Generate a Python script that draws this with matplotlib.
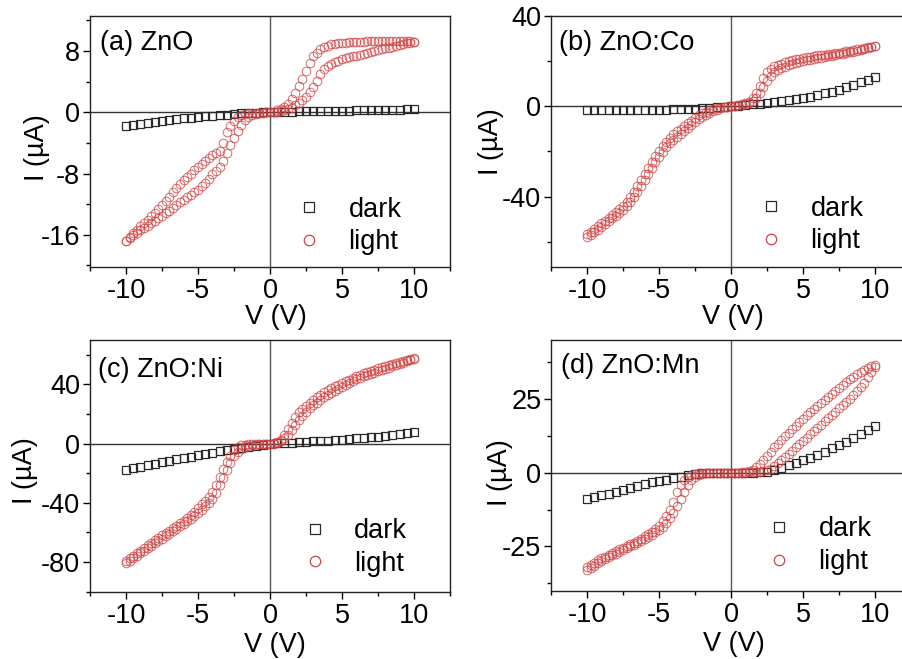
import matplotlib.pyplot as plt
from matplotlib.lines import Line2D
from matplotlib.ticker import MultipleLocator

plt.rcParams["font.family"] = ["Liberation Sans", "DejaVu Sans"]

# voltage sweep of the light curves (V), 0.25 V step
V_LIGHT = [
    -10.0, -9.75, -9.5, -9.25, -9.0, -8.75, -8.5, -8.25,
    -8.0, -7.75, -7.5, -7.25, -7.0, -6.75, -6.5, -6.25,
    -6.0, -5.75, -5.5, -5.25, -5.0, -4.75, -4.5, -4.25,
    -4.0, -3.75, -3.5, -3.25, -3.0, -2.75, -2.5, -2.25,
    -2.0, -1.75, -1.5, -1.25, -1.0, -0.75, -0.5, -0.25,
    0.0, 0.25, 0.5, 0.75, 1.0, 1.25, 1.5, 1.75,
    2.0, 2.25, 2.5, 2.75, 3.0, 3.25, 3.5, 3.75,
    4.0, 4.25, 4.5, 4.75, 5.0, 5.25, 5.5, 5.75,
    6.0, 6.25, 6.5, 6.75, 7.0, 7.25, 7.5, 7.75,
    8.0, 8.25, 8.5, 8.75, 9.0, 9.25, 9.5, 9.75,
    10.0,
]

# voltage sweep of the dark curves (V), 0.5 V step
V_DARK = [
    -10.0, -9.5, -9.0, -8.5, -8.0, -7.5, -7.0, -6.5, -6.0, -5.5,
    -5.0, -4.5, -4.0, -3.5, -3.0, -2.5, -2.0, -1.5, -1.0, -0.5,
    0.0, 0.5, 1.0, 1.5, 2.0, 2.5, 3.0, 3.5, 4.0, 4.5,
    5.0, 5.5, 6.0, 6.5, 7.0, 7.5, 8.0, 8.5, 9.0, 9.5, 10.0,
]

# (a) ZnO, current in uA
ZNO_DARK = [
    -1.75, -1.6, -1.48, -1.36, -1.25, -1.12, -1.0, -0.9, -0.8, -0.7,
    -0.62, -0.54, -0.46, -0.38, -0.3, -0.22, -0.15, -0.1, -0.05, -0.02,
    0.0, 0.05, 0.08, 0.1, 0.12, 0.14, 0.15, 0.17, 0.18, 0.2,
    0.21, 0.22, 0.24, 0.25, 0.27, 0.28, 0.3, 0.32, 0.34, 0.37, 0.4,
]
ZNO_LIGHT_HI = [
    -16.8, -16.3, -15.8, -15.35, -14.9, -14.45, -14.0, -13.55,
    -13.1, -12.6, -12.1, -11.55, -11.0, -10.45, -9.9, -9.4,
    -8.9, -8.45, -8.0, -7.55, -7.1, -6.7, -6.3, -5.95,
    -5.6, -5.3, -5.0, -4.0, -2.6, -1.8, -1.1, -0.6,
    -0.35, -0.25, -0.15, -0.12, -0.1, -0.07, -0.05, -0.02,
    0.0, 0.1, 0.25, 0.45, 0.75, 1.1, 1.7, 2.5,
    3.4, 4.4, 5.4, 6.4, 7.3, 7.8, 8.2, 8.5,
    8.7, 8.85, 8.95, 9.0, 9.05, 9.1, 9.12, 9.15,
    9.18, 9.2, 9.22, 9.24, 9.26, 9.28, 9.3, 9.3,
    9.32, 9.33, 9.34, 9.35, 9.35, 9.35, 9.33, 9.3,
    9.2,
]
ZNO_LIGHT_LO = [
    -16.8, -16.4, -16.0, -15.7, -15.4, -15.1, -14.8, -14.5,
    -14.2, -13.85, -13.5, -13.2, -12.9, -12.5, -12.1, -11.75,
    -11.4, -11.1, -10.8, -10.45, -10.1, -9.65, -9.2, -8.65,
    -8.1, -7.7, -7.2, -6.3, -5.3, -4.3, -3.4, -2.4,
    -1.6, -1.0, -0.6, -0.35, -0.2, -0.12, -0.05, -0.02,
    0.0, 0.03, 0.1, 0.18, 0.3, 0.45, 0.6, 0.9,
    1.2, 1.6, 2.0, 2.6, 3.3, 4.1, 5.0, 5.6,
    6.0, 6.3, 6.5, 6.7, 6.9, 7.05, 7.2, 7.3,
    7.4, 7.5, 7.65, 7.8, 7.9, 8.0, 8.15, 8.25,
    8.35, 8.45, 8.55, 8.7, 8.8, 8.9, 9.0, 9.1,
    9.2,
]

# (b) ZnO:Co
CO_DARK = [
    -1.8, -1.8, -1.8, -1.75, -1.75, -1.7, -1.7, -1.65, -1.6, -1.6,
    -1.55, -1.5, -1.45, -1.4, -1.3, -1.2, -1.0, -0.8, -0.55, -0.3,
    0.0, 0.25, 0.5, 0.75, 1.0, 1.3, 1.7, 2.1, 2.6, 3.1,
    3.6, 4.2, 4.9, 5.6, 6.4, 7.3, 8.3, 9.4, 10.5, 11.7, 13.0,
]
CO_LIGHT_HI = [
    -56.5, -55.6, -54.3, -53.0, -51.8, -50.6, -49.5, -48.3,
    -47.0, -45.6, -44.0, -42.3, -40.3, -38.0, -35.5, -32.8,
    -30.2, -27.5, -24.8, -22.2, -19.8, -17.7, -15.8, -14.0,
    -12.5, -11.2, -10.0, -8.8, -7.6, -6.4, -5.2, -4.1,
    -3.2, -2.5, -1.9, -1.4, -1.0, -0.7, -0.4, -0.2,
    0.0, 0.2, 0.4, 0.8, 1.3, 2.0, 3.5, 6.0,
    9.0, 12.5, 15.0, 16.6, 17.6, 18.2, 18.8, 19.4,
    19.9, 20.3, 20.7, 21.0, 21.3, 21.6, 21.9, 22.1,
    22.4, 22.6, 22.8, 23.0, 23.2, 23.4, 23.7, 23.9,
    24.2, 24.5, 24.8, 25.1, 25.4, 25.7, 26.0, 26.2,
    26.4,
]
CO_LIGHT_LO = [
    -58.0, -57.0, -55.8, -54.6, -53.3, -52.0, -50.8, -49.6,
    -48.4, -47.2, -45.8, -44.2, -42.5, -40.4, -38.0, -35.4,
    -32.8, -30.1, -27.4, -24.8, -22.3, -20.1, -18.2, -16.5,
    -15.0, -13.6, -12.3, -11.0, -9.7, -8.4, -7.1, -5.9,
    -4.8, -3.8, -2.9, -2.1, -1.5, -1.0, -0.6, -0.3,
    0.0, 0.1, 0.3, 0.5, 0.9, 1.4, 2.2, 3.6,
    5.6, 8.3, 11.0, 13.3, 15.0, 16.0, 16.8, 17.5,
    18.1, 18.6, 19.1, 19.5, 19.8, 20.2, 20.5, 20.8,
    21.1, 21.4, 21.7, 22.0, 22.3, 22.6, 22.9, 23.2,
    23.5, 23.8, 24.1, 24.5, 24.9, 25.3, 25.7, 26.0,
    26.4,
]

# (c) ZnO:Ni
NI_DARK = [
    -17.5, -16.5, -15.5, -14.5, -13.5, -12.5, -11.5, -10.5, -9.6, -8.7,
    -7.8, -6.9, -6.0, -5.1, -4.3, -3.5, -2.7, -2.0, -1.3, -0.6,
    0.0, 0.2, 0.4, 0.65, 0.9, 1.2, 1.5, 1.8, 2.1, 2.45,
    2.8, 3.15, 3.5, 3.9, 4.3, 4.75, 5.2, 5.7, 6.3, 7.0, 7.8,
]
NI_LIGHT_HI = [
    -79.1, -77.4, -75.7, -74.0, -72.3, -70.5, -68.6, -66.8,
    -65.0, -63.5, -62.0, -60.4, -58.8, -57.2, -55.5, -53.8,
    -52.0, -50.2, -48.3, -46.0, -43.4, -41.0, -38.4, -35.8,
    -32.6, -28.2, -22.6, -17.0, -12.4, -8.0, -4.5, -2.3,
    -1.1, -0.7, -0.5, -0.4, -0.3, -0.2, -0.1, -0.05,
    0.0, 0.3, 1.0, 2.8, 6.0, 10.0, 14.2, 18.0,
    21.3, 23.5, 25.5, 27.5, 29.4, 31.2, 33.0, 34.7,
    36.2, 37.5, 38.7, 39.8, 40.8, 42.0, 43.2, 44.4,
    45.6, 46.6, 47.5, 48.4, 49.3, 50.1, 50.9, 51.7,
    52.4, 53.2, 53.9, 54.7, 55.4, 56.1, 56.8, 57.4,
    58.0,
]
NI_LIGHT_LO = [
    -80.9, -79.2, -77.5, -75.8, -74.1, -72.4, -70.7, -69.0,
    -67.3, -65.7, -64.1, -62.5, -61.0, -59.3, -57.6, -55.9,
    -54.2, -52.5, -50.7, -48.9, -47.0, -44.7, -42.4, -40.0,
    -37.2, -33.0, -28.2, -23.0, -18.1, -13.0, -8.6, -5.5,
    -3.4, -2.2, -1.5, -1.0, -0.7, -0.45, -0.25, -0.1,
    0.0, 0.1, 0.5, 1.5, 3.5, 6.0, 9.0, 12.5,
    15.8, 18.8, 21.5, 24.0, 26.0, 27.8, 29.6, 31.3,
    32.8, 34.3, 35.8, 37.1, 38.4, 39.7, 41.0, 42.3,
    43.6, 44.5, 45.4, 46.2, 47.0, 47.9, 48.8, 49.7,
    50.6, 51.4, 52.2, 53.0, 53.8, 54.7, 55.6, 56.4,
    57.2,
]

# (d) ZnO:Mn
MN_DARK = [
    -9.0, -8.3, -7.7, -7.1, -6.5, -5.8, -5.1, -4.5, -3.9, -3.3,
    -2.8, -2.3, -1.8, -1.4, -0.9, -0.5, -0.2, -0.1, 0.0, 0.0,
    0.0, 0.0, 0.0, 0.05, 0.15, 0.4, 1.0, 1.7, 2.5, 3.3,
    4.2, 5.1, 6.1, 7.2, 8.3, 9.4, 10.5, 11.8, 13.1, 14.5, 16.0,
]
MN_LIGHT_HI = [
    -32.0, -31.2, -30.5, -29.7, -29.0, -28.4, -27.8, -27.2,
    -26.6, -26.0, -25.5, -24.9, -24.3, -23.7, -23.0, -22.3,
    -21.6, -20.8, -20.0, -19.0, -18.0, -16.5, -14.8, -12.5,
    -9.8, -6.5, -4.0, -2.3, -1.3, -0.7, -0.4, -0.2,
    -0.1, -0.05, 0.0, 0.0, 0.0, 0.0, 0.0, 0.0,
    0.0, 0.0, 0.05, 0.1, 0.2, 0.5, 1.0, 1.8,
    3.0, 4.4, 5.8, 7.2, 8.6, 9.9, 11.1, 12.3,
    13.5, 14.7, 15.9, 17.1, 18.3, 19.5, 20.6, 21.7,
    22.8, 23.8, 24.8, 25.8, 26.8, 27.8, 28.8, 29.8,
    30.8, 31.7, 32.6, 33.5, 34.3, 35.0, 35.6, 36.1,
    36.5,
]
MN_LIGHT_LO = [
    -33.0, -32.2, -31.5, -30.7, -30.0, -29.3, -28.6, -28.0,
    -27.4, -26.8, -26.2, -25.6, -25.0, -24.4, -23.8, -23.2,
    -22.5, -21.8, -21.0, -20.2, -19.4, -18.3, -17.0, -15.5,
    -13.5, -11.2, -8.8, -6.4, -4.3, -2.6, -1.4, -0.7,
    -0.3, -0.15, -0.05, 0.0, 0.0, 0.0, 0.0, 0.0,
    0.0, 0.0, 0.0, 0.0, 0.05, 0.1, 0.15, 0.2,
    0.3, 0.5, 0.8, 1.4, 2.2, 3.3, 4.4, 5.4,
    6.4, 7.5, 8.6, 9.7, 10.8, 11.9, 13.0, 14.1,
    15.2, 16.3, 17.4, 18.5, 19.6, 20.7, 21.8, 22.9,
    24.0, 25.1, 26.3, 27.6, 29.0, 30.6, 32.4, 34.3,
    35.8,
]

PANEL_TITLES = ["(a) ZnO", "(b) ZnO:Co", "(c) ZnO:Ni", "(d) ZnO:Mn"]
X_TICKS = [-10, -5, 0, 5, 10]

FS = 19.5
DARK_COLOR = "#2a2a2a"
LIGHT_COLOR = "#cf4444"


def draw_panel(ax, title, dark, light_hi, light_lo, ylim, yticks, yminor,
               ylabel_xy, xlabel_xy, title_xy, legend_xy):
    """Draw one I-V panel."""
    ax.axhline(0, color="#333333", lw=1.0, zorder=1)
    ax.axvline(0, color="#555555", lw=1.0, zorder=1)

    ax.plot(V_DARK, dark, ls="none", marker="s", ms=5.6, mfc="none",
            mec=DARK_COLOR, mew=0.9, zorder=2)
    for branch in (light_hi, light_lo):
        ax.plot(V_LIGHT, branch, ls="none", marker="o", ms=6.2, mfc="none",
                mec=LIGHT_COLOR, mew=0.7, alpha=0.8, zorder=3)

    ax.set_xlim(-12.5, 12.5)
    ax.set_ylim(*ylim)
    ax.set_xticks(X_TICKS)
    ax.set_xticklabels([str(t) for t in X_TICKS])
    ax.set_yticks(yticks)
    ax.set_yticklabels([str(t) for t in yticks])
    ax.xaxis.set_minor_locator(MultipleLocator(2.5))
    ax.yaxis.set_minor_locator(MultipleLocator(yminor))
    ax.tick_params(which="both", direction="out", top=False, right=False,
                   width=1.0, labelsize=FS)
    ax.tick_params(which="major", length=5)
    ax.tick_params(which="minor", length=3)
    ax.tick_params(axis="x", pad=3)
    ax.tick_params(axis="y", pad=2)
    for spine in ax.spines.values():
        spine.set_linewidth(1.0)
        spine.set_color("#222222")

    ax.set_xlabel("V (V)", fontsize=FS)
    ax.xaxis.set_label_coords(*xlabel_xy)
    ax.set_ylabel("I (\u00b5A)", fontsize=FS)
    ax.yaxis.set_label_coords(*ylabel_xy)

    ax.text(title_xy[0], title_xy[1], title, transform=ax.transAxes,
            fontsize=FS, ha="left", va="top")

    handles = [
        Line2D([], [], ls="none", marker="s", ms=6.5, mfc="none",
               mec=DARK_COLOR, mew=0.9),
        Line2D([], [], ls="none", marker="o", ms=7.5, mfc="none",
               mec=LIGHT_COLOR, mew=0.9),
    ]
    ax.legend(handles, ["dark", "light"], loc="center left",
              bbox_to_anchor=legend_xy, frameon=False, fontsize=FS,
              handlelength=1.0, handletextpad=0.95, labelspacing=0.25,
              borderpad=0, borderaxespad=0)


fig = plt.figure(figsize=(9.02, 6.59), dpi=100)

ax_a = fig.add_axes([0.0998, 0.5948, 0.3991, 0.3813])
ax_b = fig.add_axes([0.6109, 0.5953, 0.3991, 0.3809])
ax_c = fig.add_axes([0.0998, 0.1021, 0.3991, 0.3819])
ax_d = fig.add_axes([0.6109, 0.1036, 0.3991, 0.3804])

draw_panel(ax_a, PANEL_TITLES[0], ZNO_DARK, ZNO_LIGHT_HI, ZNO_LIGHT_LO,
           (-20.2, 12.6), [-16, -8, 0, 8], 4,
           (-0.111, 0.476), (0.517, -0.147), (0.028, 0.943), (0.571, 0.163))
draw_panel(ax_b, PANEL_TITLES[1], CO_DARK, CO_LIGHT_HI, CO_LIGHT_LO,
           (-71, 40), [-40, 0, 40], 20,
           (-0.13, 0.50), (0.505, -0.149), (0.022, 0.943), (0.574, 0.166))
draw_panel(ax_c, PANEL_TITLES[2], NI_DARK, NI_LIGHT_HI, NI_LIGHT_LO,
           (-100, 70), [-80, -40, 0, 40], 20,
           (-0.144, 0.48), (0.514, -0.162), (0.022, 0.932), (0.587, 0.176))
draw_panel(ax_d, PANEL_TITLES[3], MN_DARK, MN_LIGHT_HI, MN_LIGHT_LO,
           (-40, 45), [-25, 0, 25], 12.5,
           (-0.106, 0.473), (0.508, -0.16), (0.028, 0.948), (0.596, 0.18))

fig.savefig("out.png", dpi=100)
